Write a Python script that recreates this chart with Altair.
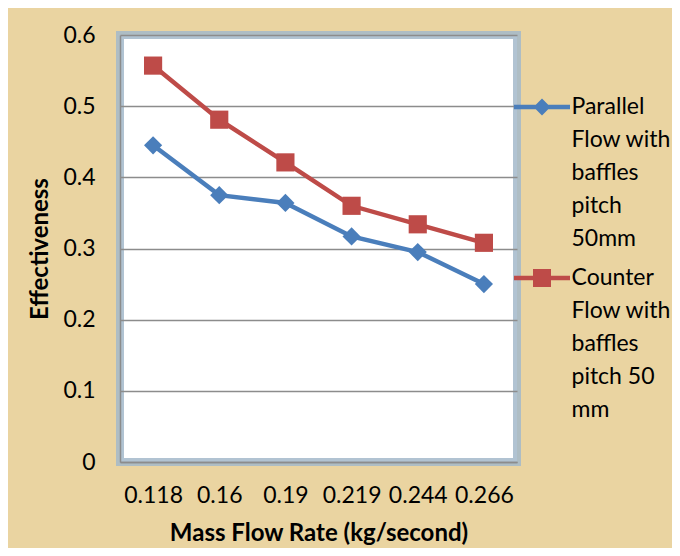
import altair as alt
import pandas as pd

flow_rates = ["0.118", "0.16", "0.19", "0.219", "0.244", "0.266"]
parallel = [0.445, 0.375, 0.364, 0.317, 0.295, 0.250]
counter = [0.557, 0.481, 0.421, 0.360, 0.334, 0.308]

series_names = ["Parallel Flow with baffles pitch 50mm", "Counter Flow with baffles pitch 50 mm"]
series_lines = [["Parallel", "Flow with", "baffles", "pitch", "50mm"],
                ["Counter", "Flow with", "baffles", "pitch 50", "mm"]]
series_colors = ["#4A7EBB", "#BE4B48"]
series_shapes = ["diamond", "square"]
legend_paths = [
    "M-3.5,-0.275 L-0.775,-0.275 L0,-1.05 L0.775,-0.275 L3.5,-0.275 L3.5,0.275 L0.775,0.275 L0,1.05 L-0.775,0.275 L-3.5,0.275 Z",
    "M-3.5,-0.275 L-1.125,-0.275 L-1.125,-1.125 L1.125,-1.125 L1.125,-0.275 L3.5,-0.275 L3.5,0.275 L1.125,0.275 L1.125,1.125 L-1.125,1.125 L-1.125,0.275 L-3.5,0.275 Z",
]
y_ticks = [0, 0.1, 0.2, 0.3, 0.4, 0.5, 0.6]

rows = []
for name, vals in zip(series_names, [parallel, counter]):
    for f, v in zip(flow_rates, vals):
        rows.append({"flow": f, "eff": v, "series": name})
df = pd.DataFrame(rows)

FONT = "Lato"
FS = 23
TFS = 24

label_expr = " : ".join(
    f"datum.label == '{n}' ? {lines!r}" for n, lines in zip(series_names[:-1], series_lines[:-1])
) + f" : {series_lines[-1]!r}"

x_enc = alt.X("flow:O", sort=flow_rates,
              scale=alt.Scale(type="point", padding=0.5),
              axis=alt.Axis(title="Mass Flow Rate (kg/second)", labelAngle=0, ticks=False,
                            grid=False, domainColor="#8C8C8C", domainWidth=1.5,
                            labelFont=FONT, labelFontSize=FS, labelColor="black", labelPadding=22,
                            titleFont=FONT, titleFontSize=TFS, titleFontWeight="bold",
                            titleColor="black", titlePadding=14))
y_enc = alt.Y("eff:Q", scale=alt.Scale(domain=[0, 0.6], nice=False, zero=True),
              axis=alt.Axis(title="Effectiveness", values=y_ticks, format="~g", ticks=False,
                            grid=True, gridColor="#8C8C8C", gridWidth=1.5,
                            domainColor="#8C8C8C", domainWidth=1.5,
                            labelFont=FONT, labelFontSize=FS, labelColor="black", labelPadding=25,
                            titleFont=FONT, titleFontSize=TFS, titleFontWeight="bold",
                            titleColor="black", titlePadding=10))

base = alt.Chart(df)

layers = []
for name, col in zip(series_names, series_colors):
    layers.append(base.transform_filter(alt.datum.series == name).mark_line(
        strokeWidth=4.5, color=col).encode(x=x_enc, y=y_enc))
for name, col, shp in zip(series_names, series_colors, series_shapes):
    layers.append(base.transform_filter(alt.datum.series == name).mark_point(
        shape=shp, filled=True, opacity=1, size=330, color=col).encode(x=x_enc, y=y_enc))

legend = alt.Legend(orient="none", legendX=410.5, legendY=60.5, title=None, padding=0,
                    symbolSize=256, symbolStrokeWidth=0, symbolOpacity=1,
                    labelFont=FONT, labelFontSize=FS, labelColor="black", labelOffset=18,
                    labelBaseline="middle", labelLimit=300, rowPadding=15,
                    labelExpr=label_expr)

dummy = base.mark_point(filled=True, opacity=0).encode(
    x=x_enc, y=y_enc,
    color=alt.Color("series:N", scale=alt.Scale(domain=series_names, range=series_colors),
                    legend=legend),
    shape=alt.Shape("series:N", scale=alt.Scale(domain=series_names, range=legend_paths),
                    legend=legend))
layers.append(dummy)

chart = alt.layer(*layers).properties(
    width=397, height=427,
    autosize=alt.AutoSizeParams(type="none"),
    padding={"left": 112, "top": 27, "right": 155, "bottom": 86},
    background="#EAD4A1",
).configure(
    style={"guide-label": {"lineHeight": 33}}
).configure_view(
    fill="white", stroke="#A3B8CA", strokeWidth=8, strokeOpacity=0.85
)

chart.save("out.html", embed_options={"renderer": "svg", "actions": False})
